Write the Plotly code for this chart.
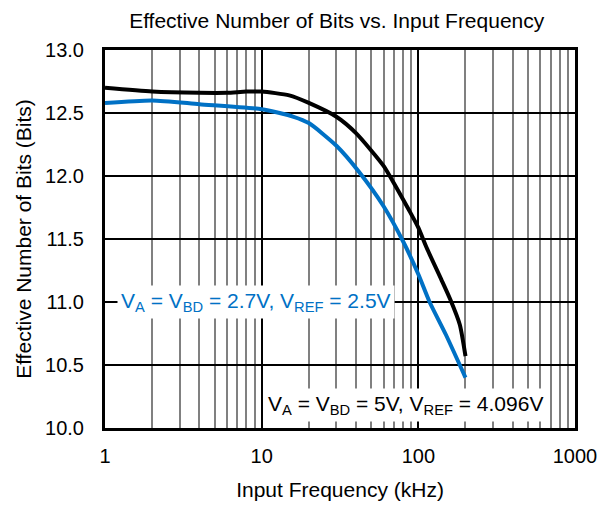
import plotly.graph_objects as go

freq_5v = [1, 2, 4, 6, 8, 10, 15, 20, 30, 40, 60, 73, 88, 100, 113, 140, 160, 184, 200]
enob_5v = [12.70, 12.67, 12.66, 12.66, 12.67, 12.67, 12.64, 12.58, 12.47, 12.34, 12.08, 11.90, 11.72, 11.59, 11.43, 11.18, 11.02, 10.82, 10.57]

freq_27v = [1, 2, 4, 10, 16, 20, 30, 42, 60, 80, 100, 118, 150, 200]
enob_27v = [12.58, 12.60, 12.57, 12.53, 12.47, 12.42, 12.24, 12.03, 11.76, 11.48, 11.22, 11.00, 10.74, 10.40]

y_ticks = [10.0, 10.5, 11.0, 11.5, 12.0, 12.5, 13.0]
x_ticks = [1, 10, 100, 1000]

BLUE = "#0071C5"
FONT = "Liberation Sans, Arial, sans-serif"

fig = go.Figure()
fig.add_trace(go.Scatter(x=freq_5v, y=enob_5v, mode="lines",
                         line=dict(color="black", width=4, shape="spline", smoothing=0.6),
                         showlegend=False))
fig.add_trace(go.Scatter(x=freq_27v, y=enob_27v, mode="lines",
                         line=dict(color=BLUE, width=4, shape="spline", smoothing=0.6),
                         showlegend=False))

fig.add_annotation(x=0.962, y=11.0, xref="x", yref="y",
                   text="V<sub>A</sub> = V<sub>BD</sub> = 2.7V, V<sub>REF</sub> = 2.5V",
                   showarrow=False, bgcolor="white", borderpad=3,
                   font=dict(color=BLUE, size=21, family=FONT))
fig.add_annotation(x=1.921, y=10.18, xref="x", yref="y",
                   text="V<sub>A</sub> = V<sub>BD</sub> = 5V, V<sub>REF</sub> = 4.096V",
                   showarrow=False, bgcolor="white", borderpad=3,
                   font=dict(color="black", size=21, family=FONT))

fig.update_layout(
    width=610, height=505,
    margin=dict(l=105, r=35, t=50, b=77),
    paper_bgcolor="white", plot_bgcolor="white",
    font=dict(family=FONT, color="black", size=20),
    title=dict(text="Effective Number of Bits vs. Input Frequency", x=0.552, xanchor="center",
               y=0.96, yanchor="middle", font=dict(size=21)),
)
fig.update_xaxes(type="log", range=[0, 3], tickvals=x_ticks, ticktext=[str(v) for v in x_ticks],
                 showgrid=True, gridcolor="black", gridwidth=1.5,
                 minor=dict(showgrid=True, gridcolor="#808080", gridwidth=2, dtick="D1", ticks=""),
                 showline=True, linecolor="black", linewidth=3, mirror=True,
                 ticks="", ticklabelstandoff=8, tickfont=dict(size=20), automargin=False,
                 title=dict(text="Input Frequency (kHz)", font=dict(size=21), standoff=17),
                 zeroline=False)
fig.update_yaxes(range=[10.0, 13.0], tickvals=y_ticks, tickformat=".1f",
                 showgrid=True, gridcolor="black", gridwidth=1.5,
                 showline=True, linecolor="black", linewidth=3, mirror=True,
                 ticks="", ticklabelstandoff=14, tickfont=dict(size=20), automargin=False,
                 title=dict(text="Effective Number of Bits (Bits)", font=dict(size=21), standoff=8),
                 zeroline=False)

fig.write_html("out.html")
